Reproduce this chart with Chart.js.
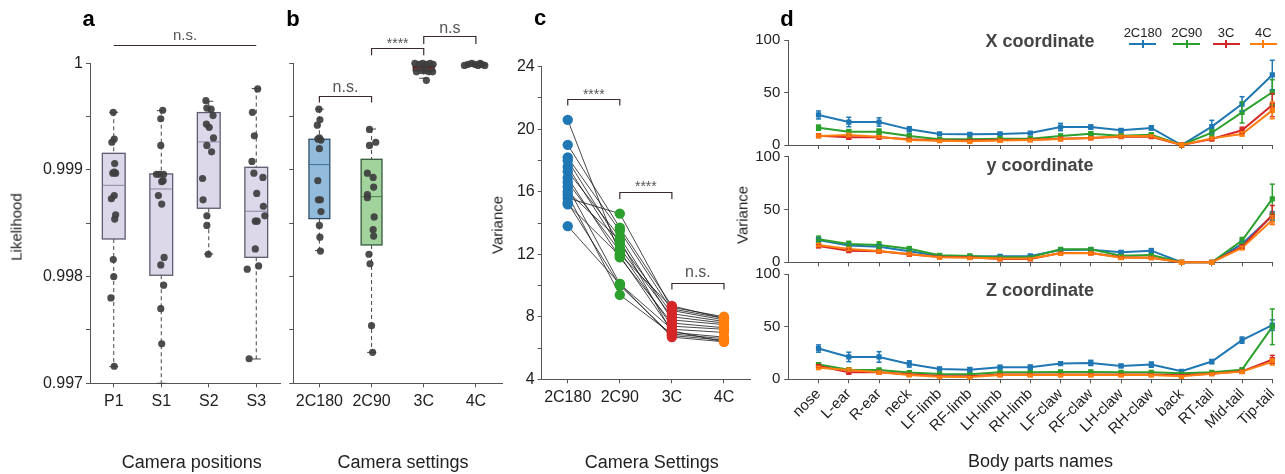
<!DOCTYPE html>
<html>
<head>
<meta charset="utf-8">
<script src="https://cdn.jsdelivr.net/npm/chart.js@4.4.0/dist/chart.umd.min.js"></script>
<style>
  body { margin: 0; background: #fff; }
  #fig { position: relative; width: 1285px; height: 474px; overflow: hidden;
         font-family: "Liberation Sans", Arial, sans-serif; color: #222; }
  #fig canvas { position: absolute; left: 0; top: 0; }
  .t { position: absolute; white-space: nowrap; line-height: 1; transform: translate(-50%, -50%); }
  .rot { transform: translate(-50%, -50%) rotate(-90deg); }
  .panel { font-weight: bold; font-size: 22px; color: #000; }
  .sub { font-weight: bold; font-size: 18px; color: #444; }
  .leg { position: absolute; height: 0; border-top: 2px solid; }
  .legtick { position: absolute; width: 0; height: 8px; border-left: 2px solid; }
</style>
</head>
<body>
<div id="fig"></div>
<script>
// ---- panel a: likelihood per camera position ----
const posLabels = ['P1', 'S1', 'S2', 'S3'];
const likTicks = [0.997, 0.9975, 0.998, 0.9985, 0.999, 0.9995, 1];
const likTickText = ['0.997', '', '0.998', '', '0.999', '', '1'];

const likP1 = [0.99954, 0.99929, 0.99926, 0.99906, 0.99898, 0.99897, 0.99897, 0.99876, 0.99873, 0.99858, 0.99854, 0.99816, 0.998, 0.9978, 0.99716];
const jitP1 = [-0.01, 0.01, -0.04, 0.02, 0.01, 0.04, -0.02, 0.01, -0.05, 0.04, 0.02, -0.01, 0, -0.06, 0.01];
const likS1 = [0.99956, 0.99948, 0.99923, 0.99896, 0.99896, 0.99896, 0.99889, 0.9989, 0.99876, 0.99868, 0.99818, 0.99811, 0.99792, 0.9977, 0.99737];
const jitS1 = [0.03, -0.01, -0.01, -0.1, -0.04, 0.05, 0.01, 0.04, -0.06, 0.01, 0.06, -0.01, 0.05, -0.01, 0.01];
const likS2 = [0.99965, 0.99958, 0.99957, 0.99951, 0.99943, 0.9994, 0.9993, 0.99923, 0.99917, 0.99892, 0.99872, 0.99857, 0.99848, 0.99821];
const jitS2 = [-0.06, -0.04, 0.05, 0.09, -0.05, 0.01, 0.1, -0.04, 0.06, -0.13, -0.12, -0.04, -0.04, -0.01];
const likS3 = [0.99976, 0.99954, 0.99932, 0.99908, 0.99897, 0.99893, 0.99878, 0.99866, 0.99857, 0.99852, 0.99852, 0.99826, 0.99807, 0.9981, 0.99723];
const jitS3 = [0.03, -0.08, -0.04, -0.09, -0.05, 0.14, 0.01, 0.15, 0.18, -0.02, 0.02, -0.02, -0.19, 0.05, -0.15];

const posQ1 = [0.998353, 0.998013, 0.998641, 0.998181];
const posMed = [0.998856, 0.998822, 0.999263, 0.998613];
const posQ3 = [0.999156, 0.998963, 0.999538, 0.999025];
const posLo = [0.997156, 0.997, 0.998213, 0.997228];
const posHi = [0.999541, 0.999556, 0.999644, 0.999763];

// ---- panel b: likelihood per camera setting ----
const setLabels = ['2C180', '2C90', '3C', '4C'];
const likC180 = [0.99957, 0.99947, 0.99942, 0.9993, 0.99929, 0.99928, 0.9992, 0.9989, 0.99872, 0.99872, 0.99861, 0.99848, 0.99837, 0.99824];
const jitC180 = [-0.01, 0.01, -0.04, 0, -0.03, 0.03, 0, -0.03, -0.02, 0.02, 0.03, 0, 0.01, 0.02];
const likC90 = [0.99938, 0.99923, 0.99926, 0.99897, 0.99893, 0.99884, 0.99877, 0.99874, 0.99856, 0.99844, 0.99838, 0.99821, 0.99812, 0.99754, 0.99729];
const jitC90 = [-0.04, -0.04, 0.08, -0.08, 0.03, 0.04, -0.08, -0.08, 0.05, 0.03, 0.04, -0.05, -0.03, 0, 0.02];
const lik3C = [1.0, 0.99999, 1.0, 0.99999, 1.0, 0.99999, 0.99992, 0.99993, 0.99992, 0.99984, 0.99993, 0.99992];
const jit3C = [-0.17, -0.09, -0.02, 0.05, 0.12, 0.18, -0.14, -0.04, 0.1, 0.05, 0.03, 0.17];
const lik4C = [0.99998, 0.99999, 1.0, 0.99999, 0.99998, 0.99999, 0.99998, 1.0];
const jit4C = [-0.22, -0.15, -0.08, -0.02, 0.04, 0.11, 0.17, 0.08];

const setQ1 = [0.998544, 0.998297, 0.99993, 0.99998];
const setMed = [0.99905, 0.99875, 0.99996, 0.999985];
const setQ3 = [0.999288, 0.9991, 0.999975, 0.99999];
const setLo = [0.998244, 0.99729, 0.99986, 0.99997];
const setHi = [0.99957, 0.999384, 1.0, 1.0];

// ---- panel c: variance per subject, one entry per recording ----
const varTicks = [4, 6, 8, 10, 12, 14, 16, 18, 20, 22, 24];
const varTickText = ['4', '', '8', '', '12', '', '16', '', '20', '', '24'];
const varC180 = [20.6, 19.0, 18.2, 18.0, 17.6, 17.3, 16.9, 16.6, 16.3, 15.6, 16.0, 15.8, 15.3, 15.2, 13.8];
const varC90 = [12.0, 13.7, 13.5, 12.7, 12.4, 13.1, 11.8, 12.2, 10.1, 14.6, 12.9, 9.4, 10.0, 11.9, 10.1];
const var3C = [8.6, 8.7, 8.4, 8.2, 8.0, 7.8, 7.6, 7.4, 7.2, 8.5, 7.0, 6.9, 6.8, 7.1, 6.7];
const var4C = [8.0, 7.9, 7.8, 7.7, 7.6, 7.5, 7.3, 7.2, 7.0, 7.9, 6.7, 6.6, 6.5, 6.4, 6.4];

// ---- panel d: variance per body part (mean and error) ----
const bodyParts = ['nose', 'L-ear', 'R-ear', 'neck', 'LF-limb', 'RF-limb', 'LH-limb', 'RH-limb',
  'LF-claw', 'RF-claw', 'LH-claw', 'RH-claw', 'back', 'RT-tail', 'Mid-tail', 'Tip-tail'];
const dTicks = [0, 50, 100];

const xVarC180 = [28.6, 21.9, 21.9, 14.9, 10.5, 10.2, 10.5, 11.4, 17.1, 17.1, 14.0, 16.2, 0, 17.5, 39.0, 66.7];
const xErrC180 = [3.8, 4.5, 4.0, 2.5, 1.2, 1.0, 1.2, 1.2, 3.5, 2.0, 1.5, 2.0, 0, 6.0, 7.0, 14.0];
const xVarC90 = [16.5, 12.7, 12.7, 8.6, 5.4, 5.4, 6.0, 6.0, 8.6, 10.8, 8.9, 9.8, 0, 11.7, 31.0, 50.2];
const xErrC90 = [2.5, 2.0, 2.5, 2.0, 1.0, 1.0, 1.0, 1.0, 1.5, 1.5, 1.0, 1.0, 0, 3.0, 10.0, 12.0];
const xVar3C = [8.9, 7.3, 7.3, 5.4, 4.4, 4.4, 4.8, 5.1, 6.0, 6.7, 7.9, 7.9, 0, 5.7, 14.0, 38.0];
const xErr3C = [1, 1, 1, 0.8, 0.5, 0.5, 0.5, 0.5, 0.8, 0.8, 0.8, 0.8, 0, 1, 3, 11];
const xVar4C = [8.6, 9.5, 7.9, 4.8, 4.1, 3.5, 4.4, 4.8, 5.7, 6.7, 8.3, 8.6, 0, 6.3, 10.5, 33];
const xErr4C = [1, 1.5, 1, 0.8, 0.5, 0.5, 0.5, 0.5, 0.8, 0.8, 0.8, 0.8, 0, 1, 2, 8];

const yVarC180 = [21.1, 15.8, 14.8, 10.4, 6.0, 5.4, 5.7, 6.0, 11.7, 12.0, 9.5, 11.0, 0, 0, 17.4, 44.0];
const yErrC180 = [2, 2, 2, 1.5, 1, 1, 1, 1, 1.2, 1.2, 1.5, 2, 0, 0, 2.5, 4];
const yVarC90 = [21.8, 17.4, 16.4, 12.9, 6.6, 6.0, 4.7, 4.7, 12.3, 12.3, 6.3, 6.9, 0, 0, 20.5, 60];
const yErrC90 = [3, 2.5, 3, 2, 1, 1, 1, 1, 1.2, 1.2, 1, 1, 0, 0, 3, 14];
const yVar3C = [15.5, 11.0, 10.4, 7.6, 5.0, 4.7, 3.2, 3.2, 8.8, 8.8, 4.7, 4.4, 0, 0, 14.8, 44.8];
const yErr3C = [1.5, 1.5, 1, 1, 0.5, 0.5, 0.5, 0.5, 0.8, 0.8, 0.5, 0.5, 0, 0, 1.5, 9];
const yVar4C = [16.4, 12.6, 10.7, 7.9, 4.7, 4.4, 3.5, 3.5, 8.5, 8.8, 4.4, 4.4, 0, 0, 13.6, 40];
const yErr4C = [1.5, 1.5, 1, 1, 0.5, 0.5, 0.5, 0.5, 0.8, 0.8, 0.5, 0.5, 0, 0, 1.5, 4];

const zVarC180 = [29.3, 21.3, 21.3, 14.6, 9.9, 9.2, 11.5, 11.5, 15.0, 15.6, 12.7, 14.0, 7.6, 16.9, 37.3, 51.6];
const zErrC180 = [3.5, 4.5, 5, 3, 1.5, 2, 1.5, 2, 1.5, 2.5, 1.5, 2.5, 1, 2, 3, 5];
const zVarC90 = [14.0, 9.2, 8.9, 6.4, 5.1, 4.8, 6.7, 6.7, 7.0, 7.0, 6.7, 6.7, 5.7, 6.7, 9.2, 50];
const zErrC90 = [1.5, 1, 1, 0.8, 0.5, 0.5, 0.5, 0.5, 0.5, 0.5, 0.5, 0.5, 0.5, 0.5, 1, 17];
const zVar3C = [12.7, 6.7, 6.7, 4.8, 3.2, 2.9, 4.5, 4.5, 4.5, 4.5, 4.5, 4.5, 3.8, 5.4, 7.6, 18.8];
const zErr3C = [1, 1, 1, 0.5, 0.5, 0.5, 0.5, 0.5, 0.5, 0.5, 0.5, 0.5, 0.5, 0.5, 0.8, 4];
const zVar4C = [11.1, 8.9, 6.7, 4.1, 2.5, 2.2, 4.1, 4.1, 4.1, 4.1, 4.1, 4.1, 2.9, 5.4, 7.3, 16.6];
const zErr4C = [1, 1.2, 1, 0.5, 0.5, 0.5, 0.5, 0.5, 0.5, 0.5, 0.5, 0.5, 0.5, 0.5, 0.8, 3];

// ------------------------------------------------------------------
const W = 1285, H = 474;
const fig = document.getElementById('fig');
const FONT = '"Liberation Sans", Arial, sans-serif';
Chart.defaults.font.family = FONT;
Chart.defaults.color = '#222';

const seriesColors = { c180: '#1f77b4', c90: '#2ca02c', c3: '#d62728', c4: '#ff7f0e' };

function mkAxis(o) {
  return {
    type: 'linear', position: o.pos, min: o.min, max: o.max,
    afterBuildTicks: s => { s.ticks = o.ticks.map(v => ({ value: v })); },
    afterFit: s => {
      if (o.pos === 'bottom') s.height = o.size; else s.width = o.size;
      s.paddingLeft = s.paddingRight = s.paddingTop = s.paddingBottom = 0;
    },
    grid: { drawOnChartArea: false, drawTicks: true, tickLength: o.tl || 4, color: '#555', lineWidth: 1 },
    border: { display: true, color: '#555', width: 1 },
    ticks: {
      autoSkip: false, minRotation: o.rot || 0, maxRotation: o.rot || 0,
      padding: o.pad == null ? 3 : o.pad, color: '#222', font: { size: o.font || 16 },
      callback: (v, i) => (o.labels ? o.labels[i] : '')
    }
  };
}

function mkChart(area, yW, xH, scales, datasets, plugins) {
  const c = document.createElement('canvas');
  c.width = W; c.height = H;
  fig.appendChild(c);
  return new Chart(c, {
    type: 'scatter',
    data: { datasets },
    options: {
      responsive: false, animation: false, devicePixelRatio: 1, events: [],
      layout: { padding: { left: area[0] - yW, top: area[1], right: W - area[2], bottom: H - area[3] - xH } },
      plugins: { legend: { display: false }, tooltip: { enabled: false } },
      scales
    },
    plugins: plugins || []
  });
}

function seg(ctx, x1, y1, x2, y2) {
  ctx.beginPath(); ctx.moveTo(x1, y1); ctx.lineTo(x2, y2); ctx.stroke();
}

// box + dashed whiskers, drawn under the points
function boxPlugin(st) {
  return {
    id: 'boxes',
    beforeDatasetsDraw(chart) {
      const { ctx } = chart, x = chart.scales.x, y = chart.scales.y;
      ctx.save();
      for (let i = 0; i < st.q1.length; i++) {
        const cx = x.getPixelForValue(i);
        const hw = x.getPixelForValue(i + st.half) - cx;
        const pLo = y.getPixelForValue(st.lo[i]), pHi = y.getPixelForValue(st.hi[i]);
        const p1 = y.getPixelForValue(st.q1[i]), p3 = y.getPixelForValue(st.q3[i]);
        const pm = y.getPixelForValue(st.med[i]);
        ctx.strokeStyle = '#444'; ctx.lineWidth = 1;
        ctx.setLineDash([4, 3]);
        seg(ctx, cx, pHi, cx, p3); seg(ctx, cx, p1, cx, pLo);
        ctx.setLineDash([]);
        seg(ctx, cx - 4.5, pHi, cx + 4.5, pHi); seg(ctx, cx - 4.5, pLo, cx + 4.5, pLo);
        ctx.fillStyle = st.fill[i];
        ctx.fillRect(cx - hw, p3, 2 * hw, p1 - p3);
        ctx.strokeStyle = st.stroke[i]; ctx.lineWidth = 1.3;
        ctx.strokeRect(cx - hw, p3, 2 * hw, p1 - p3);
        ctx.strokeStyle = st.medc[i]; ctx.lineWidth = 1;
        seg(ctx, cx - hw, pm, cx + hw, pm);
      }
      ctx.restore();
    }
  };
}

// significance brackets
function sigPlugin(list) {
  return {
    id: 'sig',
    afterDraw(chart) {
      const { ctx } = chart, x = chart.scales.x, y = chart.scales.y;
      ctx.save();
      list.forEach(s => {
        const x1 = x.getPixelForValue(s.from), x2 = x.getPixelForValue(s.to);
        const yy = Math.round(y.getPixelForValue(s.y)) + 0.5;
        ctx.strokeStyle = '#3a2c2c'; ctx.lineWidth = 1.2;
        ctx.beginPath();
        ctx.moveTo(x1, yy + s.drop); ctx.lineTo(x1, yy); ctx.lineTo(x2, yy); ctx.lineTo(x2, yy + s.drop);
        ctx.stroke();
        ctx.fillStyle = '#555';
        ctx.font = (s.size || 15) + 'px ' + FONT;
        ctx.textAlign = 'center'; ctx.textBaseline = 'middle';
        ctx.fillText(s.text, (x1 + x2) / 2, yy + s.dy);
      });
      ctx.restore();
    }
  };
}

const errorBars = {
  id: 'errorBars',
  afterDatasetsDraw(chart) {
    const { ctx } = chart, y = chart.scales.y;
    chart.data.datasets.forEach((ds, di) => {
      if (!ds.errors) return;
      const meta = chart.getDatasetMeta(di);
      ctx.save();
      ctx.strokeStyle = ds.borderColor; ctx.lineWidth = 1.5;
      meta.data.forEach((pt, j) => {
        const e = ds.errors[j];
        if (!e) return;
        const v = ds.data[j].y;
        const t = y.getPixelForValue(v + e), b = y.getPixelForValue(v - e);
        seg(ctx, pt.x, t, pt.x, b);
        seg(ctx, pt.x - 2.5, t, pt.x + 2.5, t);
        seg(ctx, pt.x - 2.5, b, pt.x + 2.5, b);
      });
      ctx.restore();
    });
  }
};

function jittered(vals, jit, i) {
  return vals.map((v, k) => ({ x: i + jit[k], y: v }));
}
function dots(data) {
  return { data, pointRadius: 3.6, backgroundColor: 'rgba(62,62,62,0.92)', borderWidth: 0, clip: false };
}

// ---- a ----
mkChart([90, 63.3, 280, 383.3], 60, 30, {
  x: mkAxis({ pos: 'bottom', min: -0.5, max: 3.5, ticks: [0, 1, 2, 3], labels: posLabels, size: 30, pad: 5 }),
  y: mkAxis({ pos: 'left', min: 0.997, max: 1, ticks: likTicks, labels: likTickText, size: 60, pad: 3 })
}, [
  dots(jittered(likP1, jitP1, 0)), dots(jittered(likS1, jitS1, 1)),
  dots(jittered(likS2, jitS2, 2)), dots(jittered(likS3, jitS3, 3))
], [
  boxPlugin({ q1: posQ1, med: posMed, q3: posQ3, lo: posLo, hi: posHi, half: 0.24,
    fill: Array(4).fill('#dcd8ea'), stroke: Array(4).fill('#5f5b70'), medc: Array(4).fill('#8a86a0') }),
  sigPlugin([{ from: 0, to: 3, y: 1.000172, drop: 0, dy: -9.6, text: 'n.s.' }])
]);

// ---- b ----
mkChart([293.3, 63.3, 502, 383.3], 10, 30, {
  x: mkAxis({ pos: 'bottom', min: -0.5, max: 3.5, ticks: [0, 1, 2, 3], labels: setLabels, size: 30, pad: 5 }),
  y: mkAxis({ pos: 'left', min: 0.997, max: 1, ticks: likTicks, size: 10, pad: 0 })
}, [
  dots(jittered(likC180, jitC180, 0)), dots(jittered(likC90, jitC90, 1)),
  dots(jittered(lik3C, jit3C, 2)), dots(jittered(lik4C, jit4C, 3))
], [
  boxPlugin({ q1: setQ1, med: setMed, q3: setQ3, lo: setLo, hi: setHi, half: 0.2,
    fill: ['#93bcdc', '#a3d39c', '#b23a3a', '#8b4a2a'], stroke: ['#2f4f6a', '#35593a', '#3a2020', '#3a2a20'],
    medc: ['#3f6a8c', '#467a48', '#5a1a1a', '#5a2a10'] }),
  sigPlugin([
    { from: 0, to: 1, y: 0.999696, drop: 6, dy: -8.7, text: 'n.s.', size: 16 },
    { from: 1, to: 2, y: 1.000141, drop: 6.7, dy: -4, text: '****', size: 14 },
    { from: 2, to: 3, y: 1.000258, drop: 7.6, dy: -7.8, text: 'n.s', size: 16 }
  ])
]);

// ---- c ----
const subjLines = varC180.map((v, k) => ({
  type: 'line', showLine: true, order: 10,
  data: [{ x: 0, y: v }, { x: 1, y: varC90[k] }, { x: 2, y: var3C[k] }, { x: 3, y: var4C[k] }],
  borderColor: '#1a1a1a', borderWidth: 0.8, pointRadius: 0
}));
function cDots(vals, i, color) {
  return { order: 1, data: vals.map(v => ({ x: i, y: v })), pointRadius: 5.2, backgroundColor: color, borderWidth: 0, clip: false };
}
mkChart([541.7, 66.7, 750, 379.3], 40, 30, {
  x: mkAxis({ pos: 'bottom', min: -0.5, max: 3.5, ticks: [0, 1, 2, 3], labels: setLabels, size: 30, pad: 5 }),
  y: mkAxis({ pos: 'left', min: 4, max: 24, ticks: varTicks, labels: varTickText, size: 40, pad: 3 })
}, [
  ...subjLines,
  cDots(varC180, 0, seriesColors.c180), cDots(varC90, 1, seriesColors.c90),
  cDots(var3C, 2, seriesColors.c3), cDots(var4C, 3, seriesColors.c4)
], [
  sigPlugin([
    { from: 0, to: 1, y: 21.93, drop: 6, dy: -4.7, text: '****', size: 14 },
    { from: 1, to: 2, y: 16.0, drop: 6.5, dy: -5, text: '****', size: 14 },
    { from: 2, to: 3, y: 10.19, drop: 6, dy: -10.5, text: 'n.s.', size: 16 }
  ])
]);

// ---- d ----
const partIdx = bodyParts.map((p, i) => i);
function dSeries(vals, errs, color, order) {
  return {
    data: vals.map((v, i) => ({ x: i, y: v })), errors: errs, order,
    showLine: true, borderColor: color, backgroundColor: color, borderWidth: 2,
    pointStyle: 'rect', pointRadius: 2.3, clip: false
  };
}
function dPanel(area, xH, showLabels, sets) {
  mkChart(area, 40, xH, {
    x: mkAxis({ pos: 'bottom', min: -1, max: 15, ticks: partIdx, labels: showLabels ? bodyParts : null,
      size: xH, pad: 2, rot: 45, font: 15 }),
    y: mkAxis({ pos: 'left', min: 0, max: 100, ticks: dTicks, labels: dTicks.map(String), size: 40, pad: 4, font: 15 })
  }, [
    dSeries(sets[0], sets[1], seriesColors.c180, 4), dSeries(sets[2], sets[3], seriesColors.c90, 3),
    dSeries(sets[4], sets[5], seriesColors.c3, 2), dSeries(sets[6], sets[7], seriesColors.c4, 1)
  ], [errorBars]);
}
dPanel([788.3, 40, 1272.3, 145], 6, false, [xVarC180, xErrC180, xVarC90, xErrC90, xVar3C, xErr3C, xVar4C, xErr4C]);
dPanel([788.3, 156.7, 1272.3, 262.3], 6, false, [yVarC180, yErrC180, yVarC90, yErrC90, yVar3C, yErr3C, yVar4C, yErr4C]);
dPanel([788.3, 274.3, 1272.3, 379.3], 80, true, [zVarC180, zErrC180, zVarC90, zErrC90, zVar3C, zErr3C, zVar4C, zErr4C]);

// ---- text ----
function label(text, x, y, cls, size) {
  const d = document.createElement('div');
  d.className = 't ' + (cls || '');
  d.textContent = text;
  d.style.left = x + 'px'; d.style.top = y + 'px';
  if (size) d.style.fontSize = size + 'px';
  fig.appendChild(d);
  return d;
}
label('a', 88.5, 19, 'panel');
label('b', 293, 19, 'panel');
label('c', 540, 18, 'panel');
label('d', 787, 18.5, 'panel');
label('Likelihood', 16, 227, 'rot', 15);
label('Variance', 496.7, 225, 'rot', 15);
label('Variance', 742, 215, 'rot', 15);
label('Camera positions', 191.7, 461.8, '', 18);
label('Camera settings', 403, 461.8, '', 18);
label('Camera Settings', 651.7, 461.8, '', 18);
label('Body parts names', 1040.5, 461, '', 18);
label('X coordinate', 1040, 40.8, 'sub');
label('y coordinate', 1040, 164.8, 'sub');
label('Z coordinate', 1040, 290, 'sub');

// legend for d
const legNames = ['2C180', '2C90', '3C', '4C'];
const legCols = [seriesColors.c180, seriesColors.c90, seriesColors.c3, seriesColors.c4];
const legCenters = [1142.8, 1186.7, 1226, 1263.3];
legNames.forEach((n, i) => {
  const cx = legCenters[i];
  label(n, cx, 32.2, '', 13);
  const ln = document.createElement('div');
  ln.className = 'leg';
  ln.style.left = (cx - 13.5) + 'px'; ln.style.top = '43.3px'; ln.style.width = '27px';
  ln.style.borderColor = legCols[i];
  fig.appendChild(ln);
  const tk = document.createElement('div');
  tk.className = 'legtick';
  tk.style.left = (cx - 1) + 'px'; tk.style.top = '40.3px';
  tk.style.borderColor = legCols[i];
  fig.appendChild(tk);
});
</script>
</body>
</html>
